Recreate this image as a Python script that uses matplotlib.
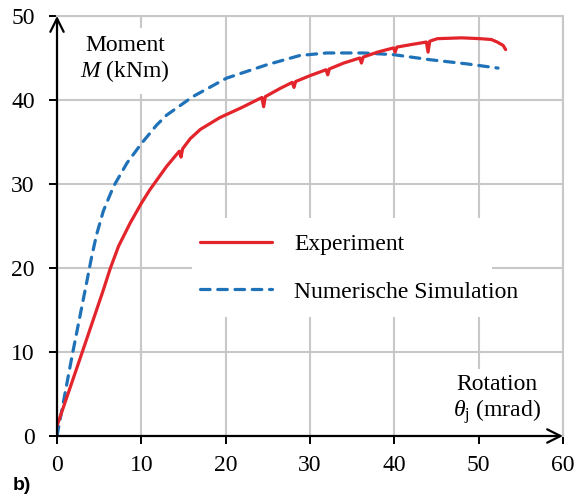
import matplotlib
matplotlib.use("Agg")
import matplotlib.pyplot as plt
from matplotlib.lines import Line2D
from matplotlib.patches import Rectangle

plt.rcParams["font.family"] = ["Liberation Serif", "DejaVu Serif"]
plt.rcParams["mathtext.fontset"] = "custom"
plt.rcParams["mathtext.rm"] = "Liberation Serif"
plt.rcParams["mathtext.it"] = "Liberation Serif:italic"

# Moment-rotation curves
exp_rot = [0.0, 3.0, 5.5, 6.3, 7.3, 8.7, 10.0, 11.0, 13.0, 14.5, 14.7, 14.9, 15.8,
           17.0, 19.3, 21.9, 24.3, 24.5, 24.7, 26.5, 27.9, 28.1, 28.3, 30.0, 31.9,
           32.1, 32.3, 34.0, 35.9, 36.1, 36.3, 38.0, 39.9, 40.1, 40.3, 42.0, 43.8,
           44.0, 44.2, 45.1, 48.0, 50.2, 51.5, 52.2, 52.9, 53.2]
exp_mom = [1.2, 10.0, 17.4, 19.9, 22.6, 25.4, 27.7, 29.3, 32.1, 33.9, 33.2, 34.2, 35.4,
           36.5, 37.9, 39.1, 40.3, 39.2, 40.4, 41.4, 42.1, 41.5, 42.2, 42.9, 43.6,
           43.0, 43.7, 44.4, 45.0, 44.4, 45.1, 45.7, 46.2, 45.7, 46.3, 46.6, 46.9,
           45.7, 47.0, 47.3, 47.4, 47.3, 47.2, 46.9, 46.5, 46.0]

sim_rot = [0.0, 1.8, 3.5, 4.1, 4.7, 5.5, 6.7, 8.3, 10.0, 11.8, 13.0, 16.1, 20.1,
           24.9, 28.8, 32.0, 36.3, 39.9, 44.2, 48.6, 52.3]
sim_mom = [0.0, 9.6, 18.2, 21.3, 24.0, 26.8, 29.7, 32.5, 34.8, 37.0, 38.2, 40.4, 42.6,
           44.2, 45.3, 45.6, 45.6, 45.4, 44.8, 44.3, 43.8]

series_labels = ["Experiment", "Numerische Simulation"]
x_ticks = [0, 10, 20, 30, 40, 50, 60]
y_ticks = [0, 10, 20, 30, 40, 50]

RED = "#e3242b"
BLUE = "#1f72b8"
GRID = "#c8c8c8"
FS = 17
LW = 2.3
DASH = (3.0, 2.4)

fig = plt.figure(figsize=(5.81, 4.97), dpi=100)
ax = fig.add_axes([57 / 581, 1 - 436 / 497, 506 / 581, 420 / 497])
ax.set_xlim(0, 60)
ax.set_ylim(0, 50)
ax.set_xticks(x_ticks)
ax.set_yticks(y_ticks)
ax.set_axisbelow(True)
ax.grid(True, color=GRID, linewidth=1.5)

for side in ("left", "bottom"):
    ax.spines[side].set_visible(False)
for side in ("top", "right"):
    ax.spines[side].set_color(GRID)
    ax.spines[side].set_linewidth(1.5)

ax.tick_params(axis="both", direction="out", length=6, width=1.4, color="black",
               labelsize=FS)
ax.tick_params(axis="y", pad=10)
ax.tick_params(axis="x", pad=8)

# Axis arrows
for tip in ((0, 1.0), (1.0, 0)):
    ax.annotate("", xy=tip, xytext=(0, 0), xycoords="axes fraction",
                arrowprops=dict(arrowstyle="->", color="black", lw=1.6,
                                mutation_scale=24, shrinkA=0, shrinkB=0),
                zorder=5)

# White patch behind the legend entries
ax.add_patch(Rectangle((0.267, 0.283), 0.593, 0.236, transform=ax.transAxes,
                       facecolor="white", edgecolor="none", zorder=1.5))

ax.plot(sim_rot, sim_mom, color=BLUE, linewidth=LW, dashes=DASH,
        dash_capstyle="round", zorder=3)
ax.plot(exp_rot, exp_mom, color=RED, linewidth=LW, solid_capstyle="round",
        solid_joinstyle="round", zorder=4)

# Axis titles on white patches
ax.text(0.134, 0.896, "Moment\n$M$ (kNm)", transform=ax.transAxes, ha="center",
        va="center", fontsize=FS, linespacing=1.1,
        bbox=dict(facecolor="white", edgecolor="none", boxstyle="square,pad=0.4"),
        zorder=3)
ax.text(0.869, 0.0857, "Rotation\n$\\theta_\\mathrm{j}$ (mrad)", transform=ax.transAxes,
        ha="center", va="center", fontsize=FS, linespacing=1.1,
        bbox=dict(facecolor="white", edgecolor="none", boxstyle="square,pad=0.4"),
        zorder=3)

handles = [Line2D([], [], color=RED, linewidth=LW, solid_capstyle="round"),
           Line2D([], [], color=BLUE, linewidth=LW, dashes=DASH,
                  dash_capstyle="round")]
leg = ax.legend(handles, series_labels, loc="center left",
                bbox_to_anchor=((200 - 57) / 506, 0.4),
                frameon=False, fontsize=FS, handlelength=3.05, handletextpad=0.95,
                labelspacing=1.1, borderpad=0, borderaxespad=0)

fig.text(13 / 581, 1 - 485 / 497, "b)", fontsize=14, fontweight="bold",
         family=["Liberation Sans"], ha="left", va="center")

fig.savefig("out.png", dpi=100, facecolor="white")
